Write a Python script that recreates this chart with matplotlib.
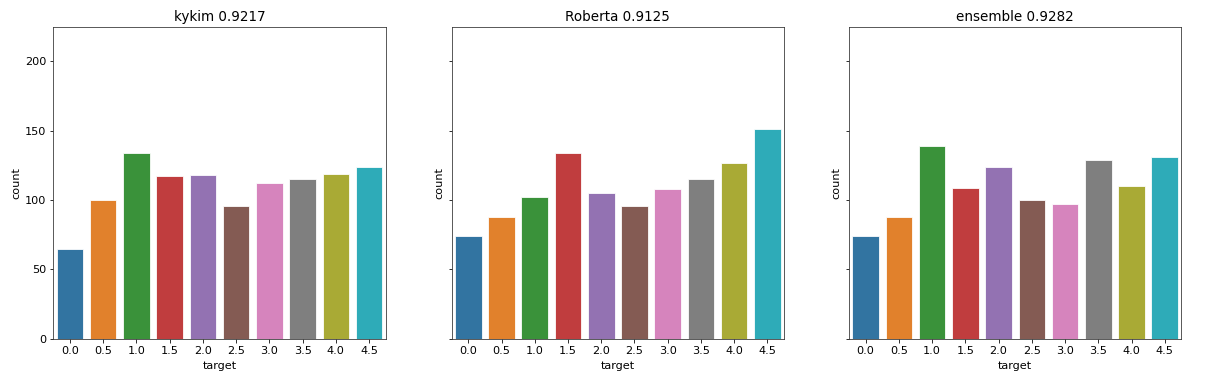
import matplotlib
matplotlib.use('Agg')
import matplotlib.pyplot as plt
import seaborn as sns

# ── Data ──────────────────────────────────────────────────────────────────────
targets = ['0.0', '0.5', '1.0', '1.5', '2.0', '2.5', '3.0', '3.5', '4.0', '4.5']

kykim_counts    = [65, 100, 134, 117, 118, 96, 112, 115, 119, 124]
roberta_counts  = [74, 88, 102, 134, 105, 96, 108, 115, 127, 151]
ensemble_counts = [74, 88, 139, 109, 124, 100, 97, 129, 110, 131]

titles = ['kykim 0.9217', 'Roberta 0.9125', 'ensemble 0.9282']

# ── Figure ────────────────────────────────────────────────────────────────────
DPI = 72
plt.rcParams['font.size'] = 11.2
fig = plt.figure(figsize=(1231 / DPI, 381 / DPI), dpi=DPI)

colors = sns.color_palette('tab10', 10, desat=0.75)

lefts = [0.0433, 0.3669, 0.6897]
axes = []
for left in lefts:
    sharey = axes[0] if axes else None
    ax = fig.add_axes([left, 0.111, 0.270, 0.819], sharey=sharey)
    axes.append(ax)

for ax, counts, title in zip(axes, [kykim_counts, roberta_counts, ensemble_counts], titles):
    ax.bar(range(len(targets)), counts, width=0.8, color=colors,
           edgecolor='white', linewidth=0.8)
    ax.set_xticks(range(len(targets)))
    ax.set_xticklabels(targets)
    ax.set_xlim(-0.5, len(targets) - 0.5)
    ax.set_xlabel('target', labelpad=5)
    ax.set_ylabel('count')
    ax.set_title(title, fontsize=13.5)
    for sp in ax.spines.values():
        sp.set_color('#333333')

axes[0].set_ylim(0, 225)
axes[0].set_yticks([0, 50, 100, 150, 200])
for ax in axes[1:]:
    ax.tick_params(labelleft=False)

fig.savefig('out.png', dpi=DPI)
